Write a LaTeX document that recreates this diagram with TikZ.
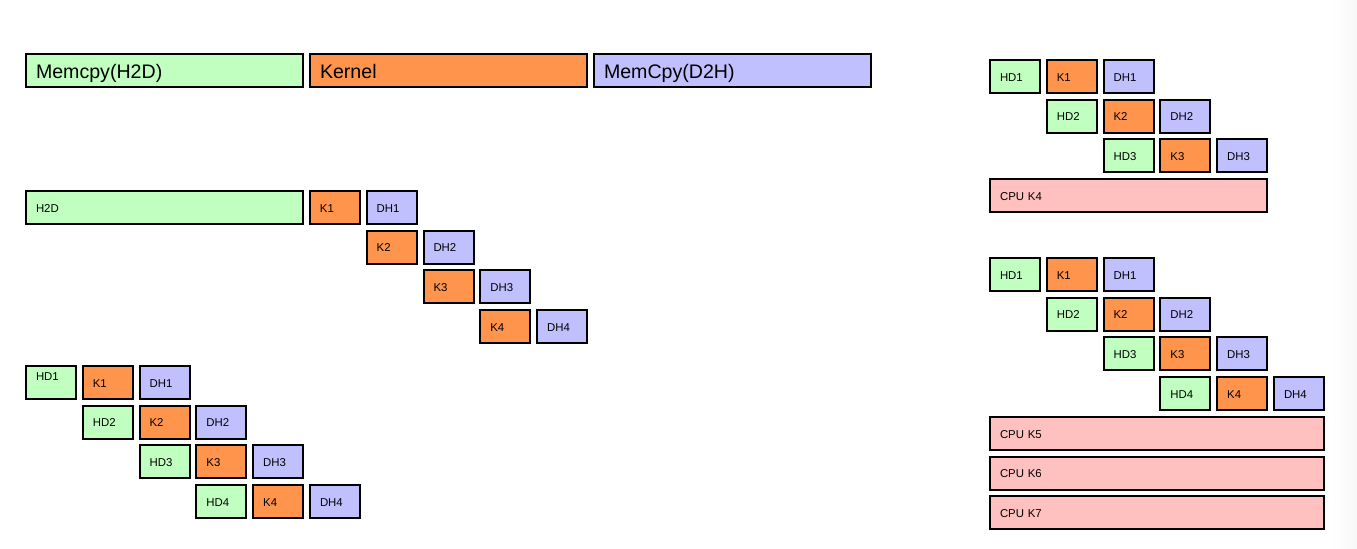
\documentclass[tikz,border=0pt]{standalone}
\usepackage{fontspec}
\setmainfont{Liberation Sans}
\usetikzlibrary{positioning}
\definecolor{hdgreen}{RGB}{192,255,192}
\definecolor{kernorange}{RGB}{255,148,77}
\definecolor{dhblue}{RGB}{192,192,255}
\definecolor{cpupink}{RGB}{255,192,192}
\tikzstyle{box} = [rectangle, draw, line width=1pt, inner xsep=5pt, inner ysep=0pt,
minimum height=16.5pt, text height=4.7pt, text depth=0pt, font=\fontsize{5.7}{6.5}\selectfont]
\tikzstyle{small} = [box, text width=15pt]
\tikzstyle{hd} = [small, fill=hdgreen]
\tikzstyle{kern} = [small, fill=kernorange]
\tikzstyle{dh} = [small, fill=dhblue]
\tikzstyle{wide} = [box, text width=128.5pt]
\tikzstyle{big} = [wide, text height=8.2pt, font=\fontsize{9.8}{11}\selectfont]
\tikzstyle{cpu} = [box, fill=cpupink]
\tikzstyle{raised} = [text depth=6.9pt]
\begin{document}
\begin{tikzpicture}[node distance = 19.85pt and 28.4pt, on grid]
			\useasboundingbox (0,0) rectangle (678.5pt,-274pt);
			\shade [left color=white, right color=black!3] (666pt,0) rectangle (678.5pt,-274pt);
			% phases
			\node [big, fill=hdgreen, anchor=north west] (memhtod) at (12.5pt,-26.5pt) {Memcpy(H2D)};
			\node [big, fill=kernorange, right=142pt of memhtod] (kernel) {Kernel};
			\node [big, fill=dhblue, right=142pt of kernel] (memdtoh) {MemCpy(D2H)};
			% one copy, then kernels
			\node [wide, fill=hdgreen, anchor=north west] (htod) at (12.5pt,-95pt) {H2D};
			\node [kern, right=85.2pt of htod] (mkone) {K1};
			\node [dh, right=of mkone] (mdhone) {DH1};
			\node [kern, below right=of mkone] (mktwo) {K2};
			\node [dh, right=of mktwo] (mdhtwo) {DH2};
			\node [kern, below right=of mktwo] (mkthree) {K3};
			\node [dh, right=of mkthree] (mdhthree) {DH3};
			\node [kern, below right=of mkthree] (mkfour) {K4};
			\node [dh, right=of mkfour] (mdhfour) {DH4};
			% streams
			\node [hd, raised, anchor=north west] (lhdone) at (12.5pt,-182.5pt) {HD1};
			\node [kern, right=of lhdone] (lkone) {K1};
			\node [dh, right=of lkone] (ldhone) {DH1};
			\node [hd, below right=of lhdone] (lhdtwo) {HD2};
			\node [kern, right=of lhdtwo] (lktwo) {K2};
			\node [dh, right=of lktwo] (ldhtwo) {DH2};
			\node [hd, below right=of lhdtwo] (lhdthree) {HD3};
			\node [kern, right=of lhdthree] (lkthree) {K3};
			\node [dh, right=of lkthree] (ldhthree) {DH3};
			\node [hd, below right=of lhdthree] (lhdfour) {HD4};
			\node [kern, right=of lhdfour] (lkfour) {K4};
			\node [dh, right=of lkfour] (ldhfour) {DH4};
			% streams and cpu, three
			\node [hd, anchor=north west] (rhdone) at (494.5pt,-29.5pt) {HD1};
			\node [kern, right=of rhdone] (rkone) {K1};
			\node [dh, right=of rkone] (rdhone) {DH1};
			\node [hd, below right=of rhdone] (rhdtwo) {HD2};
			\node [kern, right=of rhdtwo] (rktwo) {K2};
			\node [dh, right=of rktwo] (rdhtwo) {DH2};
			\node [hd, below right=of rhdtwo] (rhdthree) {HD3};
			\node [kern, right=of rhdthree] (rkthree) {K3};
			\node [dh, right=of rkthree] (rdhthree) {DH3};
			\node [cpu, text width=128.5pt, below right=59.55pt and 56.8pt of rhdone] (cpufour) {CPU K4};
			% streams and cpu, four
			\node [hd, anchor=north west] (shdone) at (494.5pt,-128.5pt) {HD1};
			\node [kern, right=of shdone] (skone) {K1};
			\node [dh, right=of skone] (sdhone) {DH1};
			\node [hd, below right=of shdone] (shdtwo) {HD2};
			\node [kern, right=of shdtwo] (sktwo) {K2};
			\node [dh, right=of sktwo] (sdhtwo) {DH2};
			\node [hd, below right=of shdtwo] (shdthree) {HD3};
			\node [kern, right=of shdthree] (skthree) {K3};
			\node [dh, right=of skthree] (sdhthree) {DH3};
			\node [hd, below right=of shdthree] (shdfour) {HD4};
			\node [kern, right=of shdfour] (skfour) {K4};
			\node [dh, right=of skfour] (sdhfour) {DH4};
			\node [cpu, text width=157pt, below right=79.4pt and 71pt of shdone] (cpufive) {CPU K5};
			\node [cpu, text width=157pt, below=of cpufive] (cpusix) {CPU K6};
			\node [cpu, text width=157pt, below=of cpusix] (cpuseven) {CPU K7};
			
			\end{tikzpicture}
\end{document}
